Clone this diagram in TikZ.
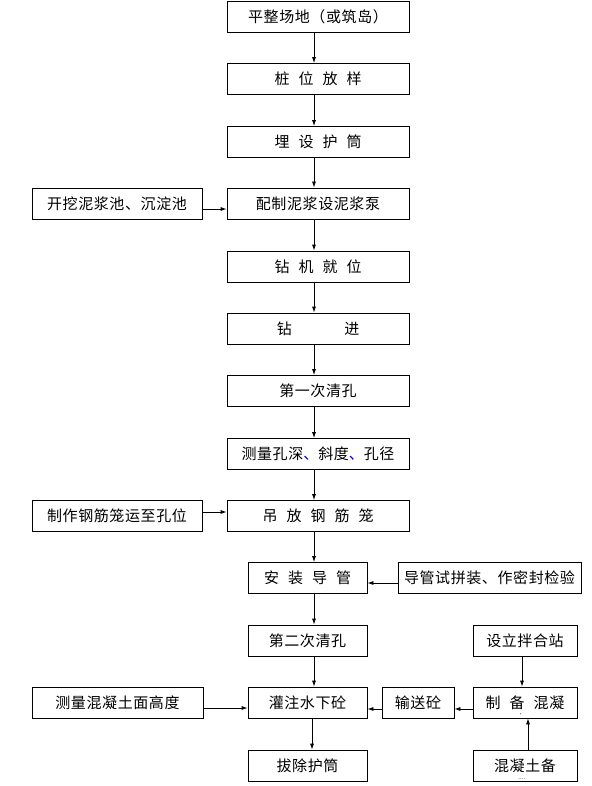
\documentclass[tikz,border=0pt]{standalone}
\usepackage{fontspec}
\setmainfont{Noto Sans CJK SC}[LetterSpace=4]
\usetikzlibrary{arrows.meta}
\newcommand{\wsp}{\hspace{0.6em}}
\tikzset{
    stepbox/.style={draw, line width=0.8pt, minimum height=31pt, inner sep=0, font=\fontsize{15}{18}\selectfont},
    wide/.style={stepbox, minimum width=182pt},
    narrow/.style={stepbox, minimum width=119pt},
    side/.style={stepbox, minimum width=170pt},
    small/.style={stepbox, minimum width=104pt},
    arr/.style={-{Latex[length=6pt,width=4pt]}, line width=0.8pt},
    speck/.style={inner sep=0, font=\fontsize{6}{6}\selectfont}
}
\begin{document}
\begin{tikzpicture}[x=1pt,y=-1pt]
    \useasboundingbox (0,0) rectangle (591,786);
    \coordinate (axis) at (314,0);
    % main column
    \node[wide] (level) at (318,17) {平整场地（或筑岛）};
    \node[wide] (stake) at (318,79) {桩\wsp 位\wsp 放\wsp 样};
    \node[wide] (casing) at (318,142) {埋\wsp 设\wsp 护\wsp 筒};
    \node[wide] (mud) at (318,203.5) {配制泥浆设泥浆泵};
    \node[wide] (rig) at (318,266.5) {钻\wsp 机\wsp 就\wsp 位};
    \node[wide] (drill) at (318,328.5) {钻\hspace{3.5em}进};
    \node[wide] (clean1) at (318,391) {第一次清孔};
    \node[wide] (measure) at (318,454) {测量孔深{\color{blue!70!black}、}斜度{\color{blue!70!black}、}孔径};
    \node[wide] (lift) at (318,516) {吊\wsp 放\wsp 钢\wsp 筋\wsp 笼};
    \node[narrow] (tube) at (307.5,578) {安\wsp 装\wsp 导\wsp 管};
    \node[narrow] (clean2) at (307.5,640.5) {第二次清孔};
    \node[narrow] (pour) at (307.5,702.5) {灌注水下砼};
    \node[narrow] (pull) at (307.5,765.5) {拔除护筒};
    % side boxes
    \node[side] (pit) at (117,203.5) {开挖泥浆池、沉淀池};
    \node[side] (cage) at (117,516) {制作钢筋笼运至孔位};
    \node[side, minimum width=171pt] (top) at (117.5,702.5) {测量混凝土面高度};
    \node[stepbox, minimum width=183pt] (test) at (489.5,578) {导管试拼装、作密封检验};
    \node[small] (plant) at (525,640.5) {设立拌合站};
    \node[small] (mix) at (525,702.5) {制\wsp 备\wsp 混凝};
    \node[stepbox, minimum width=72pt] (convey) at (418,702.5) {输送砼};
    \node[small] (stock) at (525,766) {混凝土备};
    \node[speck] (tick) at (523,715.5) {'};
    \node[speck] (dots) at (522,779.5) {....};
    % main flow
    \draw[arr] (level.south -| axis) -- (stake.north -| axis);
    \draw[arr] (stake.south -| axis) -- (casing.north -| axis);
    \draw[arr] (casing.south -| axis) -- (mud.north -| axis);
    \draw[arr] (mud.south -| axis) -- (rig.north -| axis);
    \draw[arr] (rig.south -| axis) -- (drill.north -| axis);
    \draw[arr] (drill.south -| axis) -- (clean1.north -| axis);
    \draw[arr] (clean1.south -| axis) -- (measure.north -| axis);
    \draw[arr] (measure.south -| axis) -- (lift.north -| axis);
    \draw[arr] (lift.south -| axis) -- (tube.north -| axis);
    \draw[arr] (tube.south -| axis) -- (clean2.north -| axis);
    \draw[arr] (clean2.south -| axis) -- (pour.north -| axis);
    \draw[arr] ([xshift=-2pt]pour.south -| axis) -- ([xshift=-2pt]pull.north -| axis);
    % side inputs
    \draw[arr] ([yshift=-5.5pt]pit.east) -- ([yshift=-5.5pt]mud.west);
    \draw[arr] ([yshift=4pt]cage.east) -- ([yshift=4pt]lift.west);
    \draw[arr] ([yshift=-5.5pt]top.east) -- ([yshift=-5.5pt]pour.west);
    \draw[arr] ([yshift=-5pt]test.west) -- ([yshift=-5pt]tube.east);
    \draw[arr] ([xshift=-3pt]plant.south) -- ([xshift=-3pt]mix.north);
    \draw[arr] ([xshift=3pt]stock.north) -- ([xshift=3pt]mix.south);
    \draw[arr] ([yshift=-6.5pt]mix.west) -- ([yshift=-6.5pt]convey.east);
    \draw[arr] ([yshift=-6.5pt]convey.west) -- ([yshift=-6.5pt]pour.east);
\end{tikzpicture}
\end{document}
